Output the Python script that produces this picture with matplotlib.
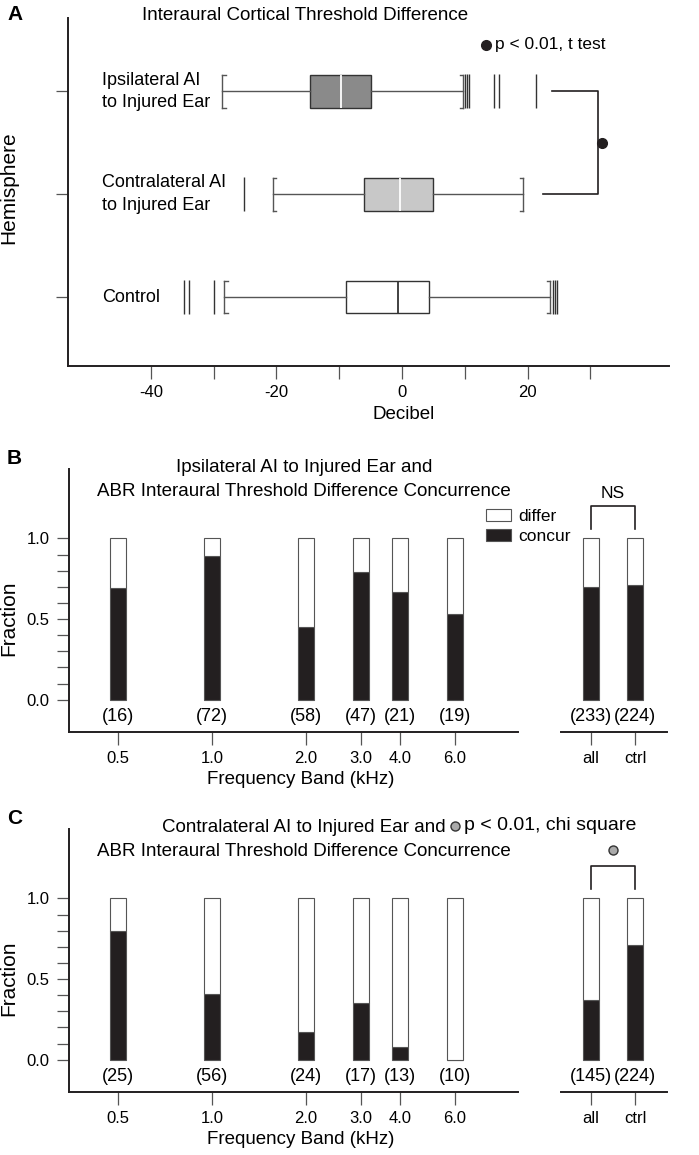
import numpy as np
import matplotlib
matplotlib.use('Agg')
import matplotlib.pyplot as plt
from matplotlib.patches import Patch
from matplotlib.lines import Line2D
from matplotlib.ticker import FixedLocator

plt.rcParams['font.family'] = ['Liberation Sans', 'DejaVu Sans']
plt.rcParams['font.size'] = 13
plt.rcParams['axes.unicode_minus'] = False

# Panel A data (decibel)
group_labels = ['Ipsilateral AI\nto Injured Ear', 'Contralateral AI\nto Injured Ear', 'Control']
group_pos = [3, 2, 1]
whislo = [-28.6, -20.5, -28.3]
q1 = [-14.7, -6.1, -9.0]
med = [-9.7, -0.3, -0.6]
q3 = [-4.9, 5.0, 4.3]
whishi = [9.7, 19.2, 23.6]
fliers = [[10.0, 10.3, 10.6, 14.6, 15.5, 21.4],
          [-25.1],
          [-34.7, -33.9, -29.9, 24.0, 24.3, 24.7]]
box_fill = ['#8a8a8a', '#c8c8c8', 'white']
med_color = ['white', 'white', '#333333']

# Panel B / C data (fraction concur)
freqs = [0.5, 1.0, 2.0, 3.0, 4.0, 6.0]
freq_labels = ['0.5', '1.0', '2.0', '3.0', '4.0', '6.0']
ipsi_concur = [0.69, 0.89, 0.45, 0.79, 0.67, 0.53]
ipsi_n = [16, 72, 58, 47, 21, 19]
contra_concur = [0.80, 0.41, 0.17, 0.35, 0.08, 0.0]
contra_n = [25, 56, 24, 17, 13, 10]
summary_labels = ['all', 'ctrl']
ipsi_summary = [0.70, 0.71]
ipsi_summary_n = [233, 224]
contra_summary = [0.37, 0.71]
contra_summary_n = [145, 224]

W, H = 699, 1155
fig = plt.figure(figsize=(W / 100, H / 100), dpi=100)

dark = '#231f20'
gray = '#555555'


def px_axes(left, top, right, bottom):
    ax = fig.add_axes([left / W, 1 - bottom / H, (right - left) / W, (bottom - top) / H])
    ax.patch.set_visible(False)
    return ax


def style(ax, left=True):
    ax.spines['top'].set_visible(False)
    ax.spines['right'].set_visible(False)
    ax.spines['left'].set_visible(left)
    for s in ['left', 'bottom']:
        ax.spines[s].set_linewidth(1.4)
        ax.spines[s].set_color(dark)
    ax.tick_params(which='both', direction='out', length=9, width=0.9, color=gray,
                   labelsize=12, pad=5)


# ---------- Panel A ----------
axA = px_axes(68, 18, 669, 366)
style(axA)
stats = []
for i in range(3):
    stats.append(dict(med=med[i], q1=q1[i], q3=q3[i], whislo=whislo[i],
                      whishi=whishi[i], fliers=fliers[i]))
bw = 0.32
art = axA.bxp(stats, positions=group_pos, widths=bw, orientation='horizontal',
              patch_artist=True, capwidths=bw,
              boxprops=dict(edgecolor='#333333', linewidth=1.0),
              whiskerprops=dict(color=gray, linewidth=1.0),
              capprops=dict(color=gray, linewidth=1.0),
              medianprops=dict(linewidth=1.3),
              flierprops=dict(marker='|', markersize=24, markeredgewidth=1.0,
                              markeredgecolor='#333333'))
for i in range(3):
    art['boxes'][i].set_facecolor(box_fill[i])
    art['medians'][i].set_color(med_color[i])
    # bracket ends on the caps
    y = group_pos[i]
    for yy in (y - bw / 2, y + bw / 2):
        axA.plot([whislo[i], whislo[i] + 0.5], [yy, yy], color=gray, lw=1.0)
        axA.plot([whishi[i] - 0.5, whishi[i]], [yy, yy], color=gray, lw=1.0)

axA.set_xlim(-53.2, 42.5)
axA.set_ylim(0.33, 3.71)
axA.xaxis.set_major_locator(FixedLocator([-40, -20, 0, 20]))
axA.xaxis.set_minor_locator(FixedLocator([-30, -10, 10, 30]))
axA.set_yticks(group_pos)
axA.set_yticklabels([])
axA.set_xlabel('Decibel', fontsize=13.5)
axA.xaxis.set_label_coords(0.559, -0.115)
axA.set_ylabel('Hemisphere', fontsize=15)
axA.yaxis.set_label_coords(-0.083, 0.511)
for lab, y in zip(group_labels, group_pos):
    axA.text(-47.8, y, lab, ha='left', va='center', fontsize=13, linespacing=1.4)

# significance bracket
axA.plot([23.9, 31.2, 31.2, 22.4], [3, 3, 2, 2], color=dark, lw=1.2)
axA.plot([31.8], [2.495], 'o', color=dark, ms=7)
axA.plot([13.4], [3.45], 'o', color=dark, ms=7, clip_on=False)
axA.text(14.8, 3.45, 'p < 0.01, t test', ha='left', va='center', fontsize=12.5)

fig.text(305 / W, 1 - 15 / H, 'Interaural Cortical Threshold Difference',
         ha='center', va='center', fontsize=13.5)
fig.text(7 / W, 1 - 15 / H, 'A', ha='left', va='center', fontsize=15, fontweight='bold')


# ---------- Panels B and C ----------
def bar_panel(top, concur, counts, summ, summ_n, title1, title2, letter):
    off = top - 469
    ax = px_axes(69, 469 + off, 518, 732 + off)
    ax2 = px_axes(561, 469 + off, 667.4, 732 + off)
    style(ax)
    style(ax2, left=False)
    xpos = np.log2(freqs)
    c = np.array(concur)
    ax.bar(xpos, c, width=0.17, color=dark, edgecolor=gray, linewidth=0.8)
    ax.bar(xpos, 1 - c, bottom=c, width=0.17, color='white', edgecolor=gray, linewidth=0.8)
    for x, n in zip(xpos, counts):
        ax.text(x, -0.105, f'({n})', ha='center', va='center', fontsize=13)
    ax.set_xlim(-1.52, 3.26)
    ax.set_ylim(-0.2, 1.43)
    ax.set_xticks(xpos)
    ax.set_xticklabels(freq_labels)
    ax.yaxis.set_major_locator(FixedLocator([0.0, 0.5, 1.0]))
    ax.yaxis.set_minor_locator(FixedLocator(np.arange(0.1, 1.0, 0.1)))
    ax.set_yticklabels(['0.0', '0.5', '1.0'])
    ax.set_xlabel('Frequency Band (kHz)', fontsize=13.5)
    ax.xaxis.set_label_coords(0.517, -0.148)
    ax.set_ylabel('Fraction', fontsize=15)
    ax.yaxis.set_label_coords(-0.114, 0.433)

    sp = np.arange(len(summ))
    s = np.array(summ)
    ax2.bar(sp, s, width=0.36, color=dark, edgecolor=gray, linewidth=0.8)
    ax2.bar(sp, 1 - s, bottom=s, width=0.36, color='white', edgecolor=gray, linewidth=0.8)
    for x, n in zip(sp, summ_n):
        ax2.text(x, -0.105, f'({n})', ha='center', va='center', fontsize=13)
    ax2.set_xlim(-0.67, 1.72)
    ax2.set_ylim(-0.2, 1.43)
    ax2.set_xticks(sp)
    ax2.set_xticklabels(summary_labels)
    ax2.set_yticks([])
    ax2.plot([0, 0, 1, 1], [1.06, 1.2, 1.2, 1.06], color=dark, lw=1.2)

    fig.text(304 / W, 1 - (468 + off) / H, title1, ha='center', va='center', fontsize=13.5)
    fig.text(304 / W, 1 - (491 + off) / H, title2, ha='center', va='center', fontsize=13.5)
    fig.text(7 / W, 1 - (458 + off) / H, letter, ha='left', va='center',
             fontsize=15, fontweight='bold')
    return ax, ax2


axB, axB2 = bar_panel(469, ipsi_concur, ipsi_n, ipsi_summary, ipsi_summary_n,
                      'Ipsilateral AI to Injured Ear and',
                      'ABR Interaural Threshold Difference Concurrence', 'B')
axB2.text(0.5, 1.28, 'NS', ha='center', va='center', fontsize=12.5)
axB.legend(handles=[Patch(facecolor='white', edgecolor=gray, linewidth=0.8, label='differ'),
                    Patch(facecolor=dark, edgecolor=gray, linewidth=0.8, label='concur')],
           loc='upper left', bbox_to_anchor=(486 / W, 1 - 509 / H),
           bbox_transform=fig.transFigure, frameon=False, borderpad=0,
           borderaxespad=0, handlelength=1.45, handleheight=0.65,
           handletextpad=0.4, labelspacing=0.3, fontsize=12.5)

axC, axC2 = bar_panel(829, contra_concur, contra_n, contra_summary, contra_summary_n,
                      'Contralateral AI to Injured Ear and',
                      'ABR Interaural Threshold Difference Concurrence', 'C')
axC2.plot([0.5], [1.30], 'o', color='#aaaaaa', mec='#333333', mew=1.0, ms=6.5, clip_on=False)
fig.add_artist(Line2D([455 / W], [1 - 826 / H], marker='o', color='#aaaaaa',
                      mec='#333333', mew=1.0, ms=6.5, transform=fig.transFigure))
fig.text(464 / W, 1 - 826 / H, 'p < 0.01, chi square', ha='left', va='center', fontsize=14)

fig.savefig('out.png', dpi=100)
